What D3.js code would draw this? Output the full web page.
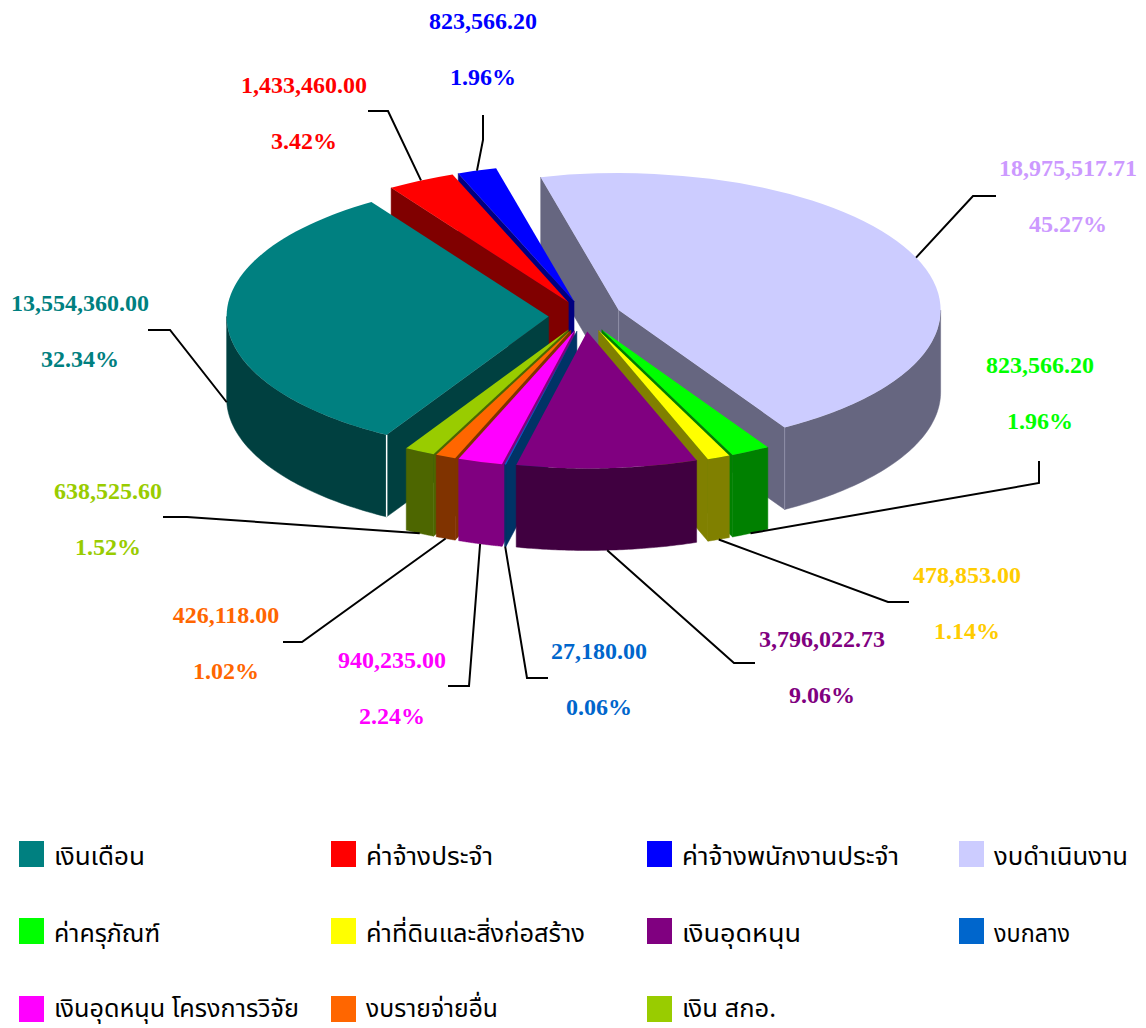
<!DOCTYPE html>
<html>
<head>
<meta charset="utf-8">
<script src="https://cdn.jsdelivr.net/npm/d3@7"></script>
<style>
html,body{margin:0;padding:0;background:#fff;overflow:hidden}
svg{display:block}
</style>
</head>
<body>
<svg id="chart" width="1146" height="1028"></svg>
<script>
// ---- data ----
const categories = ["เงินเดือน","ค่าจ้างประจำ","ค่าจ้างพนักงานประจำ","งบดำเนินงาน","ค่าครุภัณฑ์","ค่าที่ดินและสิ่งก่อสร้าง","เงินอุดหนุน","งบกลาง","เงินอุดหนุน โครงการวิจัย","งบรายจ่ายอื่น","เงิน สกอ."];
const values = [13554360.00,1433460.00,823566.20,18975517.71,823566.20,478853.00,3796022.73,27180.00,940235.00,426118.00,638525.60];
const colors = ["#008080","#FF0000","#0000FF","#CCCCFF","#00FF00","#FFFF00","#800080","#0066CC","#FF00FF","#FF6600","#99CC00"];
const labelColors = ["#008080","#FF0000","#0000FF","#CC99FF","#00FF00","#FFCC00","#800080","#0066CC","#FF00FF","#FF6600","#99CC00"];

// ---- layout ----
const W = 1146, H = 1028;
const cx = 585, cy = 316, Rx = 322, tilt = 0.4255, depth = 82, explode = 0.113;
const deg = Math.PI / 180;
const startDeg = 210.2;
const drawOrder = [3,2,1,0,10,9,8,7,4,5,6];
// [centre x, baseline of amount]; the percentage sits one step below
const labelPos = [[80,311],[304,93],[483,29],[1068,176],[1040,373],[967,583],[822,647],[599,659],[392,668],[226,623],[108,499]];
const labelStep = 56;
// leader lines: outer end, then knee, then the slice anchor (computed)
const leaderEnd = [[148,330],[368,111],[483,115],[996,196],[1039,461],[909,602],[755,663],[548,678],[448,686],[283,642],[163,517]];
const leaderKnee = [[170,330],[388,111],[483,140],[973,196],[1039,483],[888,602],[734,663],[527,678],[469,686],[302,642],[187,517]];
// legend
const legendCols = [19,331,647,959], legendRows = [841,918,996], legendBaselines = [865,942,1017];
const legendOrder = [[0,1,2,3],[4,5,6,7],[8,9,10]];
const legendWidths = {0:91,1:127,2:217,3:134,4:106,5:219,6:119,7:76,8:245,9:132,10:94};

const svg = d3.select("#chart");
const r = d3.scaleLinear().domain([0,1]).range([0,Rx]);
const pie = d3.pie().sort(null).value(d=>d).startAngle(startDeg*deg).endAngle(startDeg*deg+2*Math.PI);
const arcs = pie(values);
const arcGen = d3.arc().innerRadius(0).outerRadius(r(1));
const line = d3.line();
const darken = c => { const q=d3.rgb(c); return d3.rgb(q.r/2,q.g/2,q.b/2).formatHex(); };

function apex(d){
  const m=(d.startAngle+d.endAngle)/2;
  return [cx+r(explode)*Math.sin(m), cy-r(explode)*tilt*Math.cos(m)];
}
function pt(d,a,f=1,down=0){
  const A=apex(d);
  return [A[0]+r(f)*Math.sin(a), A[1]-r(f)*tilt*Math.cos(a)+down];
}
function frontRanges(d){
  const wins=[[90,270],[450,630]].map(w=>w.map(v=>v*deg));
  const out=[];
  wins.forEach(w=>{
    const a=Math.max(w[0],d.startAngle), b=Math.min(w[1],d.endAngle);
    if(b>a) out.push([a,b]);
  });
  return out;
}

const gPie = svg.append("g");
drawOrder.forEach(i=>{
  const d=arcs[i], dark=darken(colors[i]);
  const g=gPie.append("g").attr("class","slice");
  const A=apex(d);
  const radial=a=>{
    const P=pt(d,a), Q=pt(d,a,1,depth);
    g.append("path").attr("d",line([A,P,Q,[A[0],A[1]+depth]])+"Z")
      .attr("fill",dark).attr("stroke",dark).attr("stroke-width",0.5);
  };
  if(Math.sin(d.startAngle)<0) radial(d.startAngle);
  if(Math.sin(d.endAngle)>0) radial(d.endAngle);
  frontRanges(d).forEach(([a,b])=>{
    const ts=d3.range(0,61).map(t=>a+(b-a)*t/60);
    const top=ts.map(t=>pt(d,t)), bot=ts.map(t=>pt(d,t,1,depth)).reverse();
    g.append("path").attr("d",line(top.concat(bot))+"Z")
      .attr("fill",dark).attr("stroke",dark).attr("stroke-width",0.5);
  });
  // pale seams where two walls meet
  if(i===0){
    const s=pt(d,d.startAngle);
    g.append("path").attr("d",line([s,[s[0],s[1]+depth]])).attr("stroke","#fff").attr("stroke-width",1.5);
  }
  if(i===3){
    const s=pt(d,d.endAngle);
    [s,A].forEach(p=>g.append("path").attr("d",line([p,[p[0],p[1]+depth]])).attr("stroke","#9090a8").attr("stroke-width",1));
  }
  g.append("path").attr("d",arcGen(d))
    .attr("transform",`translate(${A[0]},${A[1]}) scale(1,${tilt})`)
    .attr("fill",colors[i]);
});

// leader lines
arcs.forEach((d,i)=>{
  const m=(d.startAngle+d.endAngle)/2;
  const anchor=pt(d,m,1,Math.cos(m)<0.0?depth:0);
  svg.append("path").attr("d",line([leaderEnd[i],leaderKnee[i],anchor]))
    .attr("fill","none").attr("stroke","#000").attr("stroke-width",2);
});

// labels
const total=d3.sum(values), fmtV=d3.format(",.2f"), fmtP=d3.format(".2%");
const labelFont="'Liberation Serif','Times New Roman',serif";
values.forEach((v,i)=>{
  [fmtV(v),fmtP(v/total)].forEach((t,k)=>{
    svg.append("text").text(t)
      .attr("x",labelPos[i][0]).attr("y",labelPos[i][1]+k*labelStep)
      .attr("text-anchor","middle")
      .attr("font-family",labelFont).attr("font-weight","bold").attr("font-size",24)
      .attr("fill",labelColors[i]);
  });
});

// legend
legendOrder.forEach((row,ri)=>row.forEach((idx,ci)=>{
  const x=legendCols[ci], y=legendRows[ri];
  svg.append("rect").attr("x",x).attr("y",y).attr("width",25).attr("height",26).attr("fill",colors[idx]);
  svg.append("text").text(categories[idx])
    .attr("x",x+35).attr("y",legendBaselines[ri])
    .attr("textLength",legendWidths[idx]).attr("lengthAdjust","spacingAndGlyphs")
    .attr("font-family","'Noto Sans Thai','Loma','Garuda','Liberation Serif','DejaVu Sans',serif")
    .attr("font-size",25).attr("fill","#000");
}));
</script>
</body>
</html>
